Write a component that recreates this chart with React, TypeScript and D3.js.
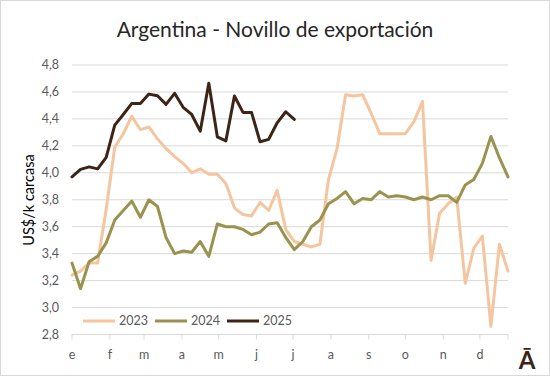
import React from 'react';
import * as d3 from 'd3';

const W = 550;
const H = 376;

const title = 'Argentina - Novillo de exportación';
const yTitle = 'US$/k carcasa';
const monthLabels = ['e', 'f', 'm', 'a', 'm', 'j', 'j', 'a', 's', 'o', 'n', 'd'];
const yTicks = [2.8, 3.0, 3.2, 3.4, 3.6, 3.8, 4.0, 4.2, 4.4, 4.6, 4.8];
const seriesNames = ['2023', '2024', '2025'];
const seriesColors = ['#f4c59e', '#9a9350', '#3c2416'];

const v2023 = [3.24, 3.27, 3.33, 3.33, 3.73, 4.19, 4.29, 4.42, 4.32, 4.34, 4.25, 4.18, 4.12, 4.07, 4.0, 4.03, 3.99, 3.99, 3.92, 3.74, 3.69, 3.68, 3.78, 3.72, 3.87, 3.58, 3.49, 3.47, 3.45, 3.47, 3.95, 4.18, 4.58, 4.57, 4.58, 4.44, 4.29, 4.29, 4.29, 4.29, 4.38, 4.53, 3.35, 3.7, 3.77, 3.82, 3.18, 3.44, 3.53, 2.86, 3.47, 3.27];
const v2024 = [3.33, 3.14, 3.34, 3.38, 3.48, 3.65, 3.72, 3.79, 3.67, 3.8, 3.75, 3.52, 3.4, 3.42, 3.41, 3.49, 3.38, 3.62, 3.6, 3.6, 3.58, 3.54, 3.56, 3.62, 3.63, 3.52, 3.43, 3.49, 3.6, 3.65, 3.77, 3.81, 3.86, 3.77, 3.81, 3.8, 3.86, 3.82, 3.83, 3.82, 3.8, 3.82, 3.8, 3.83, 3.83, 3.78, 3.91, 3.95, 4.07, 4.27, 4.11, 3.97];
const v2025 = [3.97, 4.025, 4.044, 4.029, 4.114, 4.354, 4.433, 4.515, 4.515, 4.584, 4.572, 4.508, 4.59, 4.486, 4.433, 4.309, 4.664, 4.267, 4.237, 4.57, 4.448, 4.448, 4.23, 4.248, 4.371, 4.453, 4.396];

const seriesValues = [v2023, v2024, v2025];

const FONT = 'Lato, "Open Sans", sans-serif';

export default function App() {
  const start = new Date(Date.UTC(2023, 0, 1));
  const end = new Date(Date.UTC(2023, 11, 24));
  const x = d3.scaleUtc().domain([start, end]).range([72, 508]);
  const y = d3.scaleLinear().domain([2.8, 4.8]).range([334.5, 65]);
  const weekDate = (i: number) => d3.utcDay.offset(start, 7 * i);
  const monthTicks = d3.utcMonth.range(start, end);
  const fmt = (v: number) => d3.format('.1f')(v).replace('.', ',');

  const line = d3
    .line<number>()
    .x((_, i) => x(weekDate(i)))
    .y((d) => y(d));

  const legendX = [83, 155, 227];

  return (
    <svg width={W} height={H} style={{ position: 'absolute', left: 0, top: 0 }} fontFamily={FONT}>
      <rect x={0.5} y={0.5} width={W - 1} height={H - 1} fill="#fff" stroke="#d9d9d9" />
      <text x={275} y={37} textAnchor="middle" fontSize={21} fill="#262626">
        {title}
      </text>
      {yTicks.map((t) => (
        <g key={t}>
          <line x1={72} x2={508} y1={y(t)} y2={y(t)} stroke="#d9d9d9" strokeWidth={1} />
          <text x={59} y={y(t)} dy="0.35em" textAnchor="end" fontSize={12.5} fill="#595959">
            {fmt(t)}
          </text>
        </g>
      ))}
      {monthTicks.map((m, i) => (
        <g key={i}>
          <line x1={x(m)} x2={x(m)} y1={y(2.8)} y2={y(2.8) + 5} stroke="#d9d9d9" />
          <text x={x(m)} y={359} textAnchor="middle" fontSize={12.5} fill="#595959">
            {monthLabels[i]}
          </text>
        </g>
      ))}
      <line x1={508} x2={508} y1={y(2.8)} y2={y(2.8) + 5} stroke="#d9d9d9" />
      <text
        transform={`translate(29,200) rotate(-90)`}
        textAnchor="middle"
        dy="0.35em"
        fontSize={14.5}
        fill="#000"
      >
        {yTitle}
      </text>
      {seriesValues.map((vals, s) => (
        <path
          key={s}
          d={line(vals) || ''}
          fill="none"
          stroke={seriesColors[s]}
          strokeWidth={3}
          strokeLinejoin="round"
          strokeLinecap="round"
        />
      ))}
      {seriesNames.map((n, s) => (
        <g key={n}>
          <line x1={legendX[s]} x2={legendX[s] + 32} y1={321} y2={321} stroke={seriesColors[s]} strokeWidth={3} />
          <text x={legendX[s] + 36} y={321} dy="0.35em" fontSize={12.5} fill="#595959">
            {n}
          </text>
        </g>
      ))}
      <text x={527} y={369} textAnchor="middle" fontSize={24} fontWeight="bold" fill="#3c2416">
        Ā
      </text>
    </svg>
  );
}
